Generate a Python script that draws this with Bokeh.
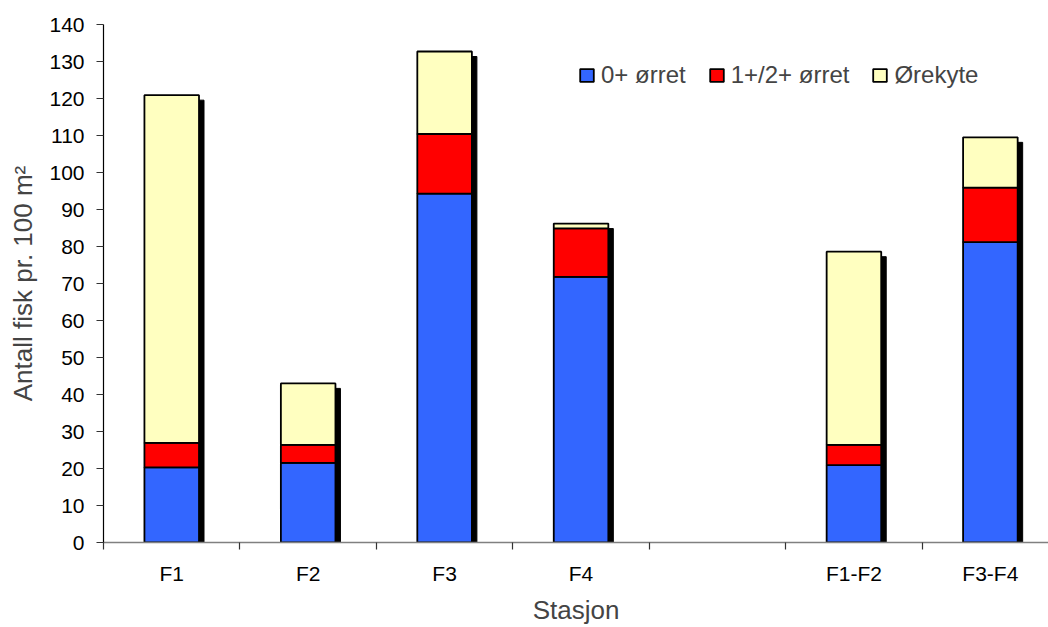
from bokeh.plotting import figure
from bokeh.models import ColumnDataSource, Range1d, FixedTicker, Legend, LegendItem
from bokeh.embed import file_html
from bokeh.resources import INLINE

# ---- data ----
categories = ["F1", "F2", "F3", "F4", "", "F1-F2", "F3-F4"]
orret_0 = [20.3, 21.5, 94.3, 71.8, None, 20.9, 81.2]
orret_12 = [6.6, 4.9, 16.1, 13.1, None, 5.5, 14.7]
orekyte = [94.0, 16.6, 22.3, 1.3, None, 52.2, 13.6]
series_names = ["0+ ørret", "1+/2+ ørret", "Ørekyte"]
y_ticks = list(range(0, 141, 10))

colors = ["#3366FF", "#FF0000", "#FFFFC0"]
FONT = "Liberation Sans"

# ---- build stacked table ----
idx = [i for i, c in enumerate(categories) if c != ""]
xs = [float(i) for i in idx]
b0 = [0.0 for i in idx]
t0 = [orret_0[i] for i in idx]
t1 = [orret_0[i] + orret_12[i] for i in idx]
t2 = [orret_0[i] + orret_12[i] + orekyte[i] for i in idx]

W, H = 1048, 627
left, top, bottom = 103, 24, 85
x_end = 6.426
frame_w = W - left
frame_h = H - top - bottom
px_x = (x_end + 0.5) / frame_w
px_y = 140.0 / frame_h
sh = 5.0

src = ColumnDataSource(dict(x=xs, b0=b0, t0=t0, t1=t1, t2=t2,
                            sx=[x + sh * px_x for x in xs],
                            st=[t - sh * px_y for t in t2]))

p = figure(width=W, height=H, output_backend="svg", toolbar_location=None,
           x_range=Range1d(-0.5, x_end), y_range=Range1d(0, 140),
           min_border_left=left, min_border_right=0, min_border_top=top,
           min_border_bottom=bottom)
p.outline_line_color = None
p.xgrid.visible = False
p.ygrid.visible = False
p.background_fill_color = "white"

bw = 0.4
p.vbar(x="sx", top="st", bottom=0, width=bw, source=src,
       fill_color="black", line_color="black")
r0 = p.vbar(x="x", bottom="b0", top="t0", width=bw, source=src,
            fill_color=colors[0], line_color="black", line_width=1.8)
r1 = p.vbar(x="x", bottom="t0", top="t1", width=bw, source=src,
            fill_color=colors[1], line_color="black", line_width=1.8)
r2 = p.vbar(x="x", bottom="t1", top="t2", width=bw, source=src,
            fill_color=colors[2], line_color="black", line_width=1.8)

# x axis
xa = p.xaxis[0]
xa.ticker = FixedTicker(ticks=[float(i) for i in range(len(categories))],
                        minor_ticks=[i - 0.5 for i in range(len(categories) + 1)])
xa.major_label_overrides = {i: c for i, c in enumerate(categories)}
xa.major_tick_line_color = None
xa.minor_tick_out = 7
xa.minor_tick_in = 0
xa.minor_tick_line_color = "#333333"
xa.minor_tick_line_width = 1.2
xa.axis_line_color = "#808080"
xa.axis_line_width = 1.5
xa.major_label_text_font = FONT
xa.major_label_text_font_size = "21px"
xa.major_label_text_color = "black"
xa.major_label_standoff = 12
xa.axis_label = "Stasjon"
xa.axis_label_text_font = FONT
xa.axis_label_text_font_size = "26px"
xa.axis_label_text_font_style = "normal"
xa.axis_label_standoff = 7

# y axis
ya = p.yaxis[0]
ya.ticker = FixedTicker(ticks=y_ticks)
ya.minor_tick_line_color = None
ya.major_tick_out = 7
ya.major_tick_in = 0
ya.major_tick_line_color = "#333333"
ya.major_tick_line_width = 1.2
ya.axis_line_color = "black"
ya.axis_line_width = 1.2
ya.major_label_text_font = FONT
ya.major_label_text_font_size = "21px"
ya.major_label_text_color = "black"
ya.major_label_standoff = 12
ya.axis_label = "Antall fisk pr. 100 m²"
ya.axis_label_text_font = FONT
ya.axis_label_text_font_size = "26px"
ya.axis_label_text_font_style = "normal"
ya.axis_label_standoff = 8

legend = Legend(items=[LegendItem(label=series_names[0], renderers=[r0]),
                       LegendItem(label=series_names[1], renderers=[r1]),
                       LegendItem(label=series_names[2], renderers=[r2])],
                orientation="horizontal", location=(475, 453),
                glyph_width=17, glyph_height=16, label_standoff=6, spacing=22,
                padding=0, margin=0, border_line_color=None,
                background_fill_alpha=0, label_text_font=FONT,
                label_text_font_size="24px")
p.add_layout(legend)

open("out.html", "w").write(file_html(p, INLINE))
